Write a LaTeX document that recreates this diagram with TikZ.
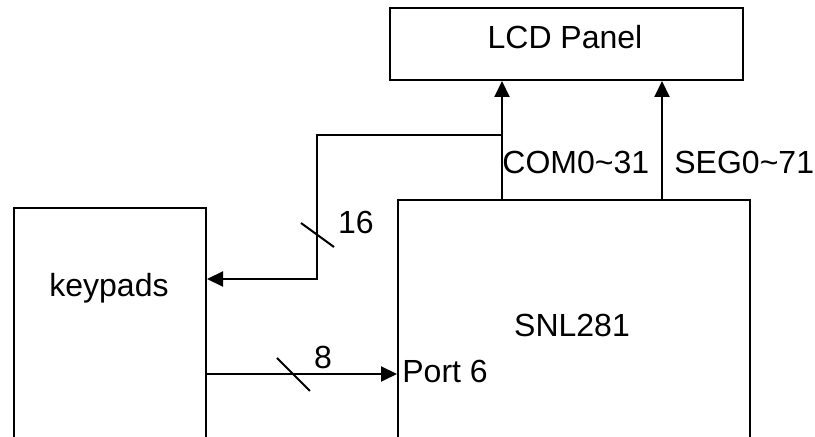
\documentclass[tikz,border=0pt]{standalone}
\usepackage{fontspec}
\setmainfont{Liberation Sans}
\usetikzlibrary{arrows.meta}
\tikzset{block/.style = {draw, line width=1pt, inner sep=0pt, anchor=north west},
  sig/.style = {line width=1pt, -{Triangle[width=7.5pt, length=8pt]}},
  wire/.style = {line width=1pt},
  lbl/.style = {inner sep=0pt, font=\fontsize{16}{19}\selectfont}}

\begin{document}
\begin{tikzpicture}[x=.5pt, y=-.5pt]
      \useasboundingbox (0,0) rectangle (815,437);
      \clip (0,0) rectangle (815,437);
      \node[block, minimum width=176.5pt, minimum height=36pt] (lcd) at (389,7) {};
      \node[block, minimum width=176pt, minimum height=150pt] (snl) at (397,199) {};
      \node[block, minimum width=96pt, minimum height=150pt] (keypads) at (13,207) {};
      \node[lbl, anchor=base] (lcdtext) at (565,49) {LCD Panel};
      \node[lbl, anchor=base] (snltext) at (572,337) {SNL281};
      \node[lbl, anchor=base] (keytext) at (109,297) {keypads};
      \coordinate (comx) at (502,0);
      \coordinate (segx) at (662,0);
      \coordinate (tap) at (502,135);
      \coordinate (bend) at (317,135);
      \coordinate (knee) at (317,279);
      \coordinate (porty) at (0,374);
      % buses to the panel
      \draw[sig] (comx |- snl.north) -- (comx |- lcd.south);
      \draw[sig] (segx |- snl.north) -- (segx |- lcd.south);
      \node[lbl, anchor=base west] (com) at (502,174) {COM0\textasciitilde31};
      \node[lbl, anchor=base west] (seg) at (674,174) {SEG0\textasciitilde71};
      % scan lines back to the keypads
      \draw[sig] (tap) -- (bend) -- (knee) -- (keypads.east |- knee);
      \draw[wire] (301,223) -- (334,247);
      \node[lbl] (n16) at (356,222) {16};
      % key inputs
      \draw[sig] (keypads.east |- porty) -- (snl.west |- porty);
      \draw[wire] (277,358) -- (310,391);
      \node[lbl] (n8) at (323,357) {8};
      \node[lbl, anchor=base west] (port) at (402,383) {Port 6};
\end{tikzpicture}
\end{document}
